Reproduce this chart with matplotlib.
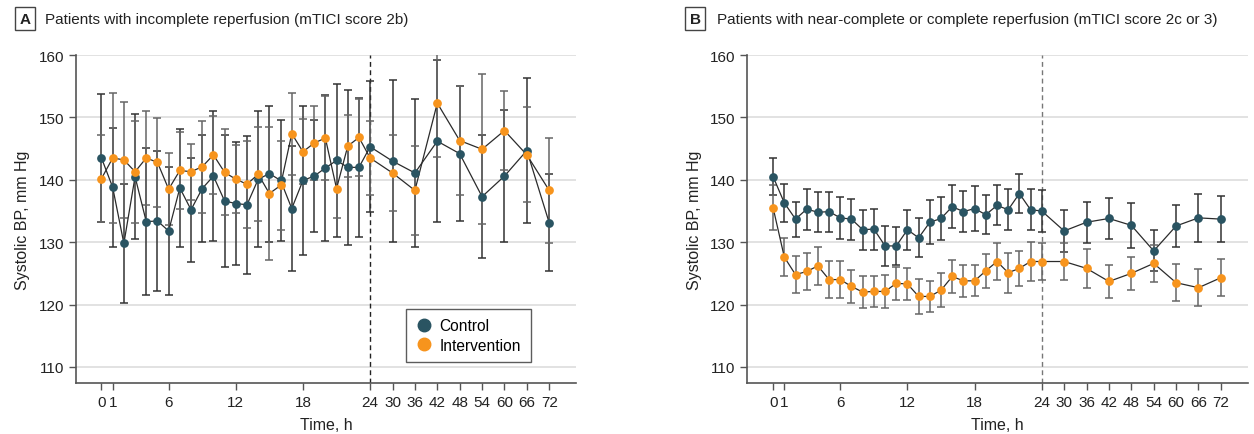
import numpy as np
import matplotlib.pyplot as plt
from matplotlib.lines import Line2D

plt.rcParams['font.family'] = ['Liberation Sans Narrow', 'Liberation Sans', 'DejaVu Sans']

hours = list(range(0, 25)) + [30, 36, 42, 48, 54, 60, 66, 72]
tick_hours = [0, 1, 6, 12, 18, 24, 30, 36, 42, 48, 54, 60, 66, 72]

# panel A: incomplete reperfusion
a_ctrl = [143.5, 138.8, 129.8, 140.5, 133.3, 133.4, 131.8, 138.7, 135.2, 138.6, 140.6, 136.6, 136.2,
          136.0, 140.1, 141.0, 139.9, 135.4, 139.9, 140.6, 141.9, 143.1, 142.0, 142.0, 145.3,
          143.0, 141.1, 146.2, 144.2, 137.3, 140.6, 144.7, 133.1]
a_ctrl_err = [10.2, 9.5, 9.5, 10.0, 11.8, 11.2, 10.2, 9.4, 8.3, 8.6, 10.4, 10.6, 9.8,
              11.1, 10.9, 10.9, 9.7, 10.1, 12.0, 9.0, 11.7, 12.3, 12.4, 11.2, 10.5,
              13.0, 11.8, 13.0, 10.8, 9.9, 10.6, 11.7, 7.8]
a_int = [140.2, 143.5, 143.2, 141.3, 143.5, 142.8, 138.5, 141.5, 141.3, 142.1, 144.0, 141.2, 140.1,
         139.3, 140.9, 137.8, 139.1, 147.4, 144.5, 145.9, 146.7, 138.6, 145.4, 146.8, 143.5,
         141.1, 138.3, 152.3, 146.3, 144.9, 147.9, 144.0, 138.3]
a_int_err = [7.0, 10.4, 9.3, 8.2, 7.5, 7.1, 5.8, 6.2, 4.5, 7.4, 6.3, 6.9, 5.5,
             7.0, 7.5, 10.7, 7.1, 6.6, 5.2, 5.9, 6.8, 4.8, 5.0, 6.2, 5.9,
             6.1, 7.1, 8.7, 8.7, 12.0, 6.3, 7.6, 8.4]

# panel B: near-complete or complete reperfusion
b_ctrl = [140.5, 136.3, 133.7, 135.3, 134.8, 134.9, 133.9, 133.7, 132.0, 132.1, 129.4, 129.4, 132.0,
          130.7, 133.2, 133.8, 135.7, 134.9, 135.4, 134.4, 135.9, 135.2, 137.8, 135.2, 135.0,
          131.8, 133.2, 133.8, 132.7, 128.6, 132.6, 133.9, 133.7]
b_ctrl_err = [3.0, 3.1, 2.8, 3.3, 3.2, 3.2, 3.4, 3.3, 3.2, 3.3, 3.2, 3.0, 3.2,
              3.1, 3.5, 3.4, 3.4, 3.3, 3.6, 3.1, 3.2, 3.3, 3.1, 3.3, 3.3,
              3.3, 3.3, 3.3, 3.6, 3.3, 3.4, 3.8, 3.7]
b_int = [135.5, 127.6, 124.8, 125.3, 126.2, 124.0, 124.0, 122.9, 122.0, 122.1, 122.1, 123.4, 123.3,
         121.3, 121.3, 122.3, 124.5, 123.8, 123.8, 125.4, 126.9, 125.1, 125.8, 126.9, 126.9,
         126.9, 125.8, 123.7, 125.0, 126.6, 123.5, 122.7, 124.3]
b_int_err = [3.6, 3.1, 2.95, 3.0, 3.0, 3.0, 3.0, 2.7, 2.5, 2.5, 2.6, 2.7, 2.5,
             2.8, 2.5, 2.7, 2.7, 2.6, 2.5, 2.7, 3.0, 3.2, 2.8, 3.2, 2.9,
             2.9, 3.1, 2.6, 2.7, 3.0, 3.0, 3.0, 3.0]

CTRL = '#2a5462'
INTV = '#f7941d'


def axis_pos(h):
    # hourly spacing up to 24 h, then 6-h steps take 2 slots
    h = np.asarray(h, dtype=float)
    return np.where(h <= 24, h, 24 + (h - 24) / 3)


fig = plt.figure(figsize=(12.54, 4.35), dpi=100)
ax_a = fig.add_axes([0.0604, 0.117, 0.399, 0.754])
ax_b = fig.add_axes([0.596, 0.117, 0.399, 0.754])

panels = [
    (ax_a, 'A', 'Patients with incomplete reperfusion (mTICI score 2b)',
     a_ctrl, a_ctrl_err, a_int, a_int_err, '#222222', 0.0199, 0.0355),
    (ax_b, 'B', 'Patients with near-complete or complete reperfusion (mTICI score 2c or 3)',
     b_ctrl, b_ctrl_err, b_int, b_int_err, '#777777', 0.5545, 0.5715),
]

x = axis_pos(hours)
for ax, letter, title, c, ce, iv, ie, dash_col, lx, tx in panels:
    ax.axvline(24, color=dash_col, ls=(0, (3.5, 2.5)), lw=1.0, zorder=1)
    ax.errorbar(x, c, yerr=ce, fmt='none', ecolor='#333333', elinewidth=1.1, capsize=3, capthick=1.1, zorder=2)
    ax.errorbar(x, iv, yerr=ie, fmt='none', ecolor='#666666', elinewidth=1.1, capsize=3, capthick=1.1, zorder=2)
    ax.plot(x, c, color='#2b2b2b', lw=0.9, zorder=3)
    ax.plot(x, iv, color='#2b2b2b', lw=0.9, zorder=3)
    ax.plot(x, c, 'o', color=CTRL, ms=6.3, mec='none', zorder=4)
    ax.plot(x, iv, 'o', color=INTV, ms=6.3, mec='none', zorder=4)

    ax.set_ylim(107.4, 160)
    ax.set_xlim(-2.3, 42.4)
    ax.set_yticks([110, 120, 130, 140, 150, 160])
    ax.set_xticks(axis_pos(tick_hours))
    ax.set_xticklabels([str(t) for t in tick_hours])
    ax.yaxis.grid(True, color='#dddddd', lw=1.2)
    ax.set_axisbelow(True)
    for s in ['top', 'right']:
        ax.spines[s].set_visible(False)
    for s in ['left', 'bottom']:
        ax.spines[s].set_color('#555555')
        ax.spines[s].set_linewidth(1.2)
    ax.tick_params(axis='both', labelsize=11, colors='#555555', labelcolor='#222222', length=5, width=1)
    ax.set_xlabel('Time, h', fontsize=11.5, color='#222222', labelpad=6)
    ax.set_ylabel('Systolic BP, mm Hg', fontsize=11.5, color='#222222', labelpad=6)

    fig.text(lx, 0.955, letter, fontsize=11, fontweight='bold', ha='center', va='center',
             color='#222222', bbox=dict(boxstyle='square,pad=0.3', fc='white', ec='#444444', lw=1))
    fig.text(tx, 0.955, title, fontsize=11.0, ha='left', va='center', color='#222222')

handles = [Line2D([], [], ls='none', marker='o', color=CTRL, ms=9, label='Control'),
           Line2D([], [], ls='none', marker='o', color=INTV, ms=9, label='Intervention')]
leg = ax_a.legend(handles=handles, loc='lower right', bbox_to_anchor=(0.909, 0.064), fontsize=11.2,
                  frameon=True, fancybox=False, edgecolor='#333333', handletextpad=0.4,
                  borderpad=0.6, labelspacing=0.3, handlelength=1.2, borderaxespad=0)
leg.get_frame().set_linewidth(1.0)

fig.savefig('out.png', dpi=100)
